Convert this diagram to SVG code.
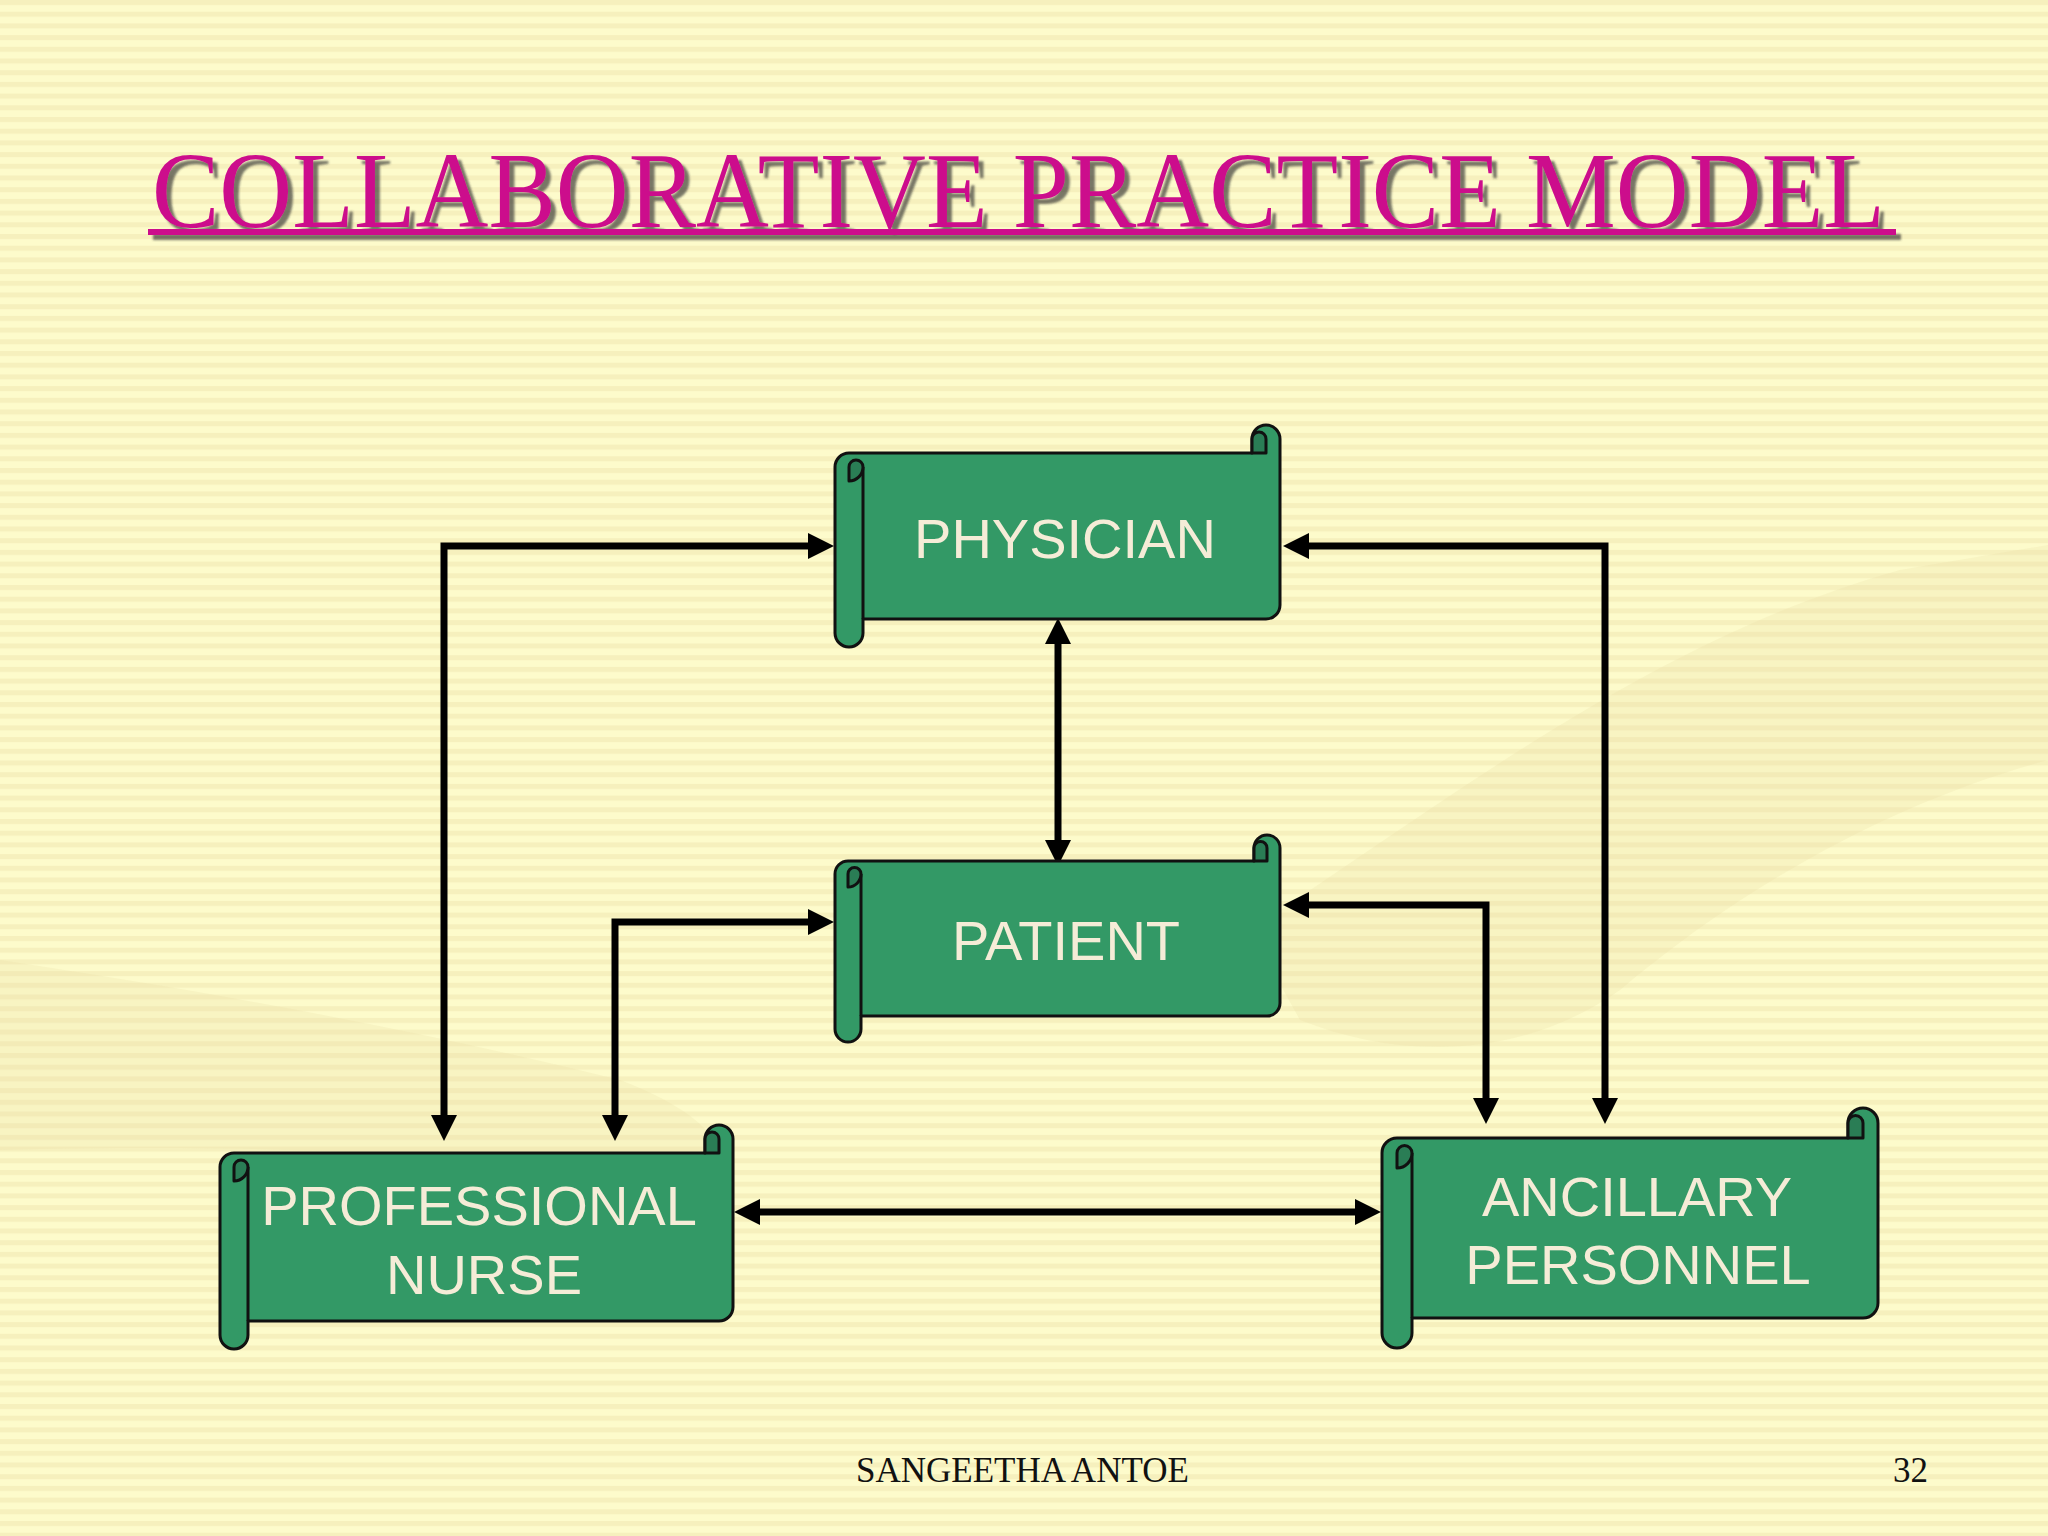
<svg xmlns="http://www.w3.org/2000/svg" width="2048" height="1536" viewBox="0 0 2048 1536">
<defs>
<pattern id="stripes" x="0" y="0" width="2048" height="11.7" patternUnits="userSpaceOnUse">
<rect x="0" y="0" width="2048" height="11.7" fill="#fdfbcb"/>
<rect x="0" y="0" width="2048" height="5" fill="#f6f0bd"/>
</pattern>
<marker id="arr" viewBox="0 0 26 26" markerUnits="userSpaceOnUse" markerWidth="26" markerHeight="26" refX="1" refY="13" orient="auto-start-reverse">
<path d="M0,0 L26,13 L0,26 Z" fill="#000"/>
</marker>
<filter id="shadow" x="-5%" y="-20%" width="110%" height="150%">
<feDropShadow dx="5" dy="5" stdDeviation="1" flood-color="#333" flood-opacity="0.65"/>
</filter>
</defs>
<style>
.body{fill:#339966;stroke:#111;stroke-width:3;stroke-linejoin:round}
.dark{fill:#2a7d55;stroke:#111;stroke-width:3;stroke-linejoin:round}
.ln{fill:none;stroke:#111;stroke-width:3}
.lbl{font-family:"Liberation Sans",Arial,sans-serif;font-size:56px;fill:#f5ecd7;text-anchor:middle}
.conn{fill:none;stroke:#000;stroke-width:7;stroke-linejoin:miter;marker-start:url(#arr);marker-end:url(#arr)}
.title{font-family:"Liberation Serif","Times New Roman",serif;font-size:108px}
.foot{font-family:"Liberation Serif","Times New Roman",serif;font-size:35px;fill:#111}
</style>
<rect width="2048" height="1536" fill="url(#stripes)"/>
<g id="bg-hands" fill="#e6dba3" opacity="0.22">
<path d="M1250,930 C1450,800 1650,640 1900,570 L2048,545 L2048,760 C1900,800 1750,880 1620,990 C1520,1060 1400,1060 1300,1020 Z"/>
<path d="M0,960 C200,990 420,1030 620,1080 C700,1110 740,1150 720,1190 C600,1170 400,1140 0,1150 Z"/>
</g>
<g id="title" filter="url(#shadow)">
<text class="title" x="152" y="227" textLength="1733" lengthAdjust="spacingAndGlyphs" fill="#cc0a8c">COLLABORATIVE PRACTICE MODEL</text>
<rect x="148" y="229" width="1748" height="6" fill="#cc0a8c"/>
</g>
<g id="connectors">
<path class="conn" d="M809,546 L444,546 L444,1116"/>
<path class="conn" d="M1308,546 L1605,546 L1605,1099"/>
<path class="conn" d="M1058,643 L1058,841"/>
<path class="conn" d="M809,922 L615,922 L615,1116"/>
<path class="conn" d="M1308,905 L1486,905 L1486,1099"/>
<path class="conn" d="M759,1212 L1356,1212"/>
</g>
<g id="physician">
<path class="body" d="M849,453 L1252,453 L1252,439 A14,14 0 0 1 1280,439 L1280,605 A14,14 0 0 1 1266,619 L863,619 L863,633 A14,14 0 0 1 835,633 L835,467 A14,14 0 0 1 849,453 Z"/>
<path class="ln" d="M863,467 L863,619"/>
<path class="dark" d="M849,481 A14,14 0 0 0 863,467 A7,7 0 0 0 849,467 Z"/>
<path class="dark" d="M1252,439 L1252,453 L1266,453 L1266,439 A7,7 0 0 0 1252,439 Z"/>
<text class="lbl" x="1065" y="558">PHYSICIAN</text>
</g>
<g id="patient">
<path class="body" d="M848,861 L1254,861 L1254,848 A13,13 0 0 1 1280,848 L1280,1003 A13,13 0 0 1 1267,1016 L861,1016 L861,1029 A13,13 0 0 1 835,1029 L835,874 A13,13 0 0 1 848,861 Z"/>
<path class="ln" d="M861,874 L861,1016"/>
<path class="dark" d="M848,887 A13,13 0 0 0 861,874 A6.5,6.5 0 0 0 848,874 Z"/>
<path class="dark" d="M1254,848 L1254,861 L1267,861 L1267,848 A6.5,6.5 0 0 0 1254,848 Z"/>
<text class="lbl" x="1066" y="960">PATIENT</text>
</g>
<g id="nurse">
<path class="body" d="M234,1153 L705,1153 L705,1139 A14,14 0 0 1 733,1139 L733,1307 A14,14 0 0 1 719,1321 L248,1321 L248,1335 A14,14 0 0 1 220,1335 L220,1167 A14,14 0 0 1 234,1153 Z"/>
<path class="ln" d="M248,1167 L248,1321"/>
<path class="dark" d="M234,1181 A14,14 0 0 0 248,1167 A7,7 0 0 0 234,1167 Z"/>
<path class="dark" d="M705,1139 L705,1153 L719,1153 L719,1139 A7,7 0 0 0 705,1139 Z"/>
<text class="lbl" x="479" y="1225">PROFESSIONAL</text>
<text class="lbl" x="484" y="1294">NURSE</text>
</g>
<g id="ancillary">
<path class="body" d="M1397,1138 L1848,1138 L1848,1123 A15,15 0 0 1 1878,1123 L1878,1303 A15,15 0 0 1 1863,1318 L1412,1318 L1412,1333 A15,15 0 0 1 1382,1333 L1382,1153 A15,15 0 0 1 1397,1138 Z"/>
<path class="ln" d="M1412,1153 L1412,1318"/>
<path class="dark" d="M1397,1168 A15,15 0 0 0 1412,1153 A7.5,7.5 0 0 0 1397,1153 Z"/>
<path class="dark" d="M1848,1123 L1848,1138 L1863,1138 L1863,1123 A7.5,7.5 0 0 0 1848,1123 Z"/>
<text class="lbl" x="1637" y="1216">ANCILLARY</text>
<text class="lbl" x="1638" y="1284">PERSONNEL</text>
</g>
<g id="footer">
<text class="foot" x="856" y="1482">SANGEETHA ANTOE</text>
<text class="foot" x="1893" y="1482">32</text>
</g>
</svg>
